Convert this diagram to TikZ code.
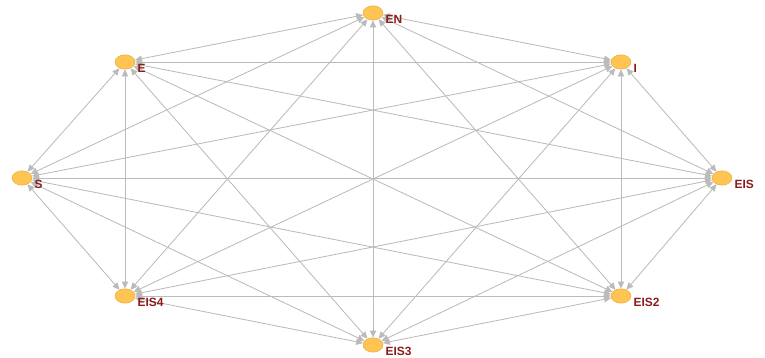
\documentclass[tikz,border=0pt]{standalone}
\usepackage{fontspec}
\setsansfont{Liberation Sans}
\usepackage{xcolor}
\usepackage{tikz}
\usetikzlibrary{arrows.meta,shapes.geometric,backgrounds}
\definecolor{nodegold}{HTML}{FFC451}
\definecolor{nodeedge}{HTML}{E6A63C}
\definecolor{labelred}{HTML}{8B1C1C}
\definecolor{linkgray}{HTML}{BBBBBB}

\begin{document}
\begin{tikzpicture}[x=0.025cm, y=-0.025cm,
  person/.style={ellipse, draw=nodeedge, line width=0.3pt, fill=nodegold, minimum width=0.5cm, minimum height=0.36cm, inner sep=0pt},
  lab/.style={font=\sffamily\bfseries\fontsize{8.5}{9}\selectfont, text=labelred, inner sep=1.5pt, anchor=north west},
  link/.style={draw=linkgray, line width=0.6pt, {Triangle[width=4.5pt,length=5pt]}-{Triangle[width=4.5pt,length=5pt]}}]
  \useasboundingbox (0,0) rectangle (765,357);
  \node[person, label={[lab]east:EN}] (en) at (373,13) {};
  \node[person, label={[lab]east:E}] (e) at (125,62) {};
  \node[person, label={[lab]east:I}] (i) at (621,62) {};
  \node[person, label={[lab]east:S}] (s) at (22,178) {};
  \node[person, label={[lab]east:EIS}] (eis) at (722,178) {};
  \node[person, label={[lab]east:EIS4}] (eis4) at (125,296) {};
  \node[person, label={[lab]east:EIS2}] (eis2) at (621,296) {};
  \node[person, label={[lab]east:EIS3}] (eis3) at (373,345) {};
  % every pair linked both ways, behind the people
  \begin{scope}[on background layer]
  \foreach \a/\b in {en/e, en/i, en/s, en/eis, en/eis4, en/eis2, en/eis3,
                     e/i, e/s, e/eis, e/eis4, e/eis2, e/eis3,
                     i/s, i/eis, i/eis4, i/eis2, i/eis3,
                     s/eis, s/eis4, s/eis2, s/eis3,
                     eis/eis4, eis/eis2, eis/eis3,
                     eis4/eis2, eis4/eis3,
                     eis2/eis3}
    \draw[link] (\a) -- (\b);
  \end{scope}
\end{tikzpicture}
\end{document}
